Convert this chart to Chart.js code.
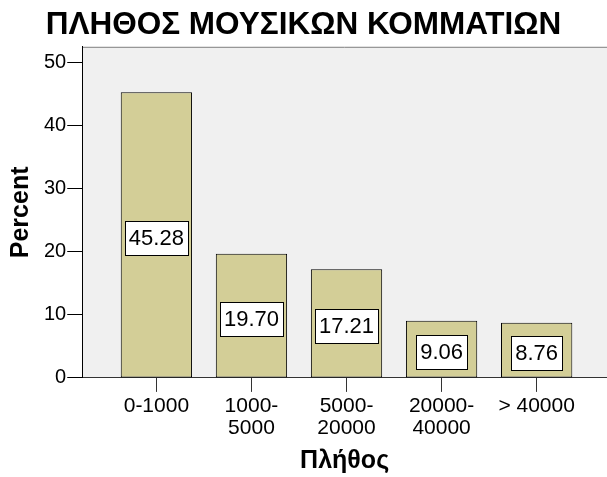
<!DOCTYPE html>
<html>
<head>
<meta charset="utf-8">
<script src="https://cdn.jsdelivr.net/npm/chart.js@4"></script>
<style>
  html, body { margin: 0; padding: 0; background: #fff; }
  #wrap { width: 607px; height: 477px; }
</style>
</head>
<body>
<div id="wrap"><canvas id="plithosChart"></canvas></div>
<script>
const categories = ['0-1000', ['1000-', '5000'], ['5000-', '20000'], ['20000-', '40000'], '> 40000'];
const percents = [45.28, 19.70, 17.21, 9.06, 8.76];
const yTicks = [0, 10, 20, 30, 40, 50];

const FONT = "'Liberation Sans', Arial, sans-serif";

// gray plot background + top border
const plotBg = {
  id: 'plotBg',
  beforeDraw(chart) {
    const { ctx, chartArea: a } = chart;
    ctx.save();
    ctx.fillStyle = '#f0f0f0';
    ctx.fillRect(a.left, a.top, a.right - a.left, a.bottom - a.top);
    ctx.strokeStyle = '#808080';
    ctx.lineWidth = 1;
    ctx.beginPath();
    ctx.moveTo(a.left, a.top + 0.5);
    ctx.lineTo(a.right, a.top + 0.5);
    ctx.stroke();
    ctx.restore();
  }
};

// value boxes in the middle of the bars
const valueBoxes = {
  id: 'valueBoxes',
  afterDatasetsDraw(chart) {
    const { ctx } = chart;
    const meta = chart.getDatasetMeta(0);
    ctx.save();
    ctx.font = '22px ' + FONT;
    ctx.textAlign = 'center';
    ctx.textBaseline = 'middle';
    meta.data.forEach((bar, i) => {
      const txt = percents[i].toFixed(2);
      const w = ctx.measureText(txt).width + 8;
      const h = 34;
      const cx = bar.x;
      const cy = (bar.y + bar.base) / 2 + 3;
      const x0 = Math.round(cx - w / 2) + 0.5;
      const y0 = Math.round(cy - h / 2) + 0.5;
      ctx.fillStyle = '#fff';
      ctx.fillRect(x0, y0, Math.round(w), h);
      ctx.strokeStyle = '#000';
      ctx.lineWidth = 1;
      ctx.strokeRect(x0, y0, Math.round(w), h);
      ctx.fillStyle = '#000';
      ctx.fillText(txt, cx, cy + 1);
    });
    ctx.restore();
  }
};

const ctx = document.getElementById('plithosChart').getContext('2d');
new Chart(ctx, {
  type: 'bar',
  data: {
    datasets: [{
      label: 'Percent',
      data: percents.map((v, i) => ({ x: i, y: v })),
      backgroundColor: '#d3ce97',
      borderColor: '#000',
      borderWidth: 1,
      borderSkipped: false,
      categoryPercentage: 1,
      barPercentage: 0.75
    }]
  },
  options: {
    responsive: true,
    maintainAspectRatio: false,
    animation: false,
    layout: { padding: { left: 0, right: 0, top: 0, bottom: 0 } },
    plugins: {
      legend: { display: false },
      tooltip: { enabled: false },
      title: {
        display: true,
        text: 'ΠΛΗΘΟΣ ΜΟΥΣΙΚΩΝ ΚΟΜΜΑΤΙΩΝ',
        color: '#000',
        font: { family: FONT, size: 31.5, weight: 'bold' },
        padding: { top: 6, bottom: 3 }
      }
    },
    scales: {
      x: {
        type: 'linear',
        offset: false,
        min: -0.78,
        max: 4.74,
        afterBuildTicks: s => { s.ticks = categories.map((c, i) => ({ value: i })); },
        ticks: {
          color: '#000',
          font: { family: FONT, size: 21, lineHeight: 1.05 },
          padding: 3,
          maxRotation: 0,
          autoSkip: false,
          callback: v => categories[v]
        },
        grid: { offset: false, drawOnChartArea: false, drawTicks: true, tickLength: 14, tickColor: '#333' },
        border: { color: '#333', width: 1 },
        title: {
          display: true,
          text: 'Πλήθος',
          color: '#000',
          font: { family: FONT, size: 25, weight: 'bold' },
          padding: { top: 4, bottom: 1 }
        }
      },
      y: {
        min: 0,
        max: 52.5,
        afterBuildTicks: s => { s.ticks = yTicks.map(v => ({ value: v })); },
        ticks: {
          color: '#000',
          font: { family: FONT, size: 20 },
          padding: 1
        },
        grid: { drawOnChartArea: false, drawTicks: true, tickLength: 15, tickColor: '#000' },
        border: { color: '#000', width: 1 },
        title: {
          display: true,
          text: 'Percent',
          color: '#000',
          font: { family: FONT, size: 25, weight: 'bold' },
          padding: { top: 6, bottom: 7 }
        }
      }
    }
  },
  plugins: [plotBg, valueBoxes]
});
</script>
</body>
</html>
